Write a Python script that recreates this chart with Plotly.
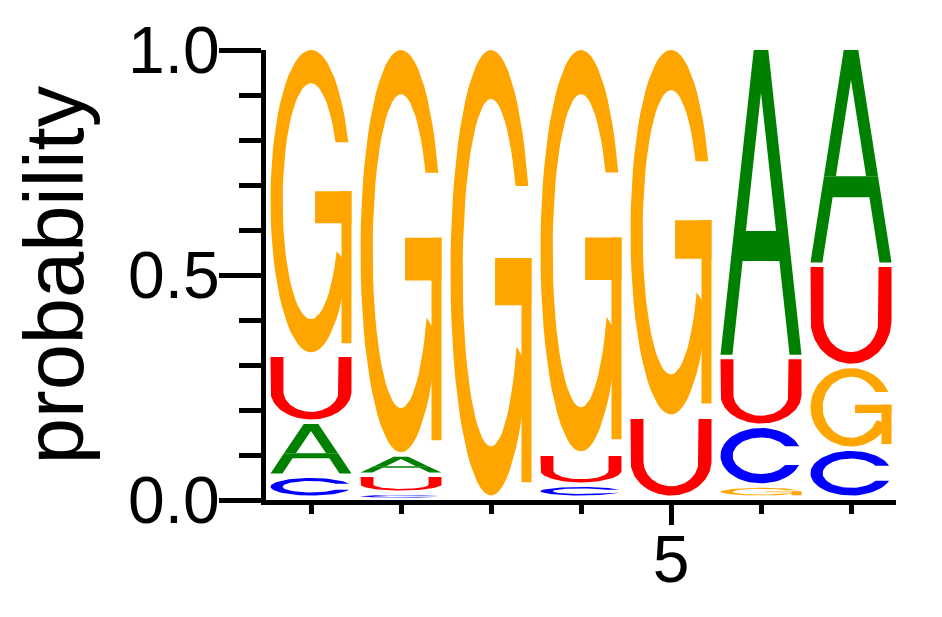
import numpy as np
import plotly.graph_objects as go

# Sequence logo: probability of each nucleotide per position
positions = [1, 2, 3, 4, 5, 6, 7]
prob_A = [0.120, 0.045, 0.0, 0.0, 0.0, 0.687, 0.482]
prob_C = [0.049, 0.011, 0.0, 0.029, 0.0, 0.133, 0.109]
prob_G = [0.682, 0.904, 1.0, 0.902, 0.820, 0.027, 0.184]
prob_U = [0.149, 0.040, 0.0, 0.069, 0.180, 0.153, 0.225]

colors = {'A': '#008000', 'C': '#0000FF', 'G': '#FFA500', 'U': '#FF0000'}
LETTER_W = 0.9
GAP = 0.01


def arc(cx, cy, rx, ry, a0, a1, n=60):
    t = np.radians(np.linspace(a0, a1, n))
    return list(zip(cx + rx * np.cos(t), cy + ry * np.sin(t)))


def glyph(letter):
    # letter outlines in a unit box, as a list of simple polygons
    if letter == 'A':
        s = 0.41
        il = lambda y: 0.5 - (0.86 - y) * s
        lower = [(0, 0), (il(0), 0), (il(0.307), 0.307), (1 - il(0.307), 0.307),
                 (1 - il(0), 0), (1, 0), (1 - 0.406 * s, 0.406), (0.406 * s, 0.406)]
        upper = [(0.406 * s, 0.406), (il(0.406), 0.406), (0.5, 0.86),
                 (1 - il(0.406), 0.406), (1 - 0.406 * s, 0.406), (0.59, 1), (0.41, 1)]
        return [lower, upper]
    if letter == 'C':
        a_out = np.degrees(np.arcsin(0.17 / 0.5))
        a_in = np.degrees(np.arcsin(0.17 / 0.33))
        ring = arc(0.5, 0.5, 0.5, 0.5, a_out, 360 - a_out) + \
            arc(0.5, 0.5, 0.35, 0.33, 360 - a_in, a_in)
        return [ring]
    if letter == 'G':
        a_out = np.degrees(np.arcsin(0.195 / 0.5))
        a_in = np.degrees(np.arcsin(0.195 / 0.39))
        ring = arc(0.5, 0.5, 0.5, 0.5, a_out, 335) + \
            arc(0.5, 0.5, 0.35, 0.39, 335, a_in)
        bar = [(0.55, 0.427), (1, 0.427), (1, 0.533), (0.55, 0.533)]
        stem = [(0.877, 0.03), (1, 0.03), (1, 0.533), (0.877, 0.533)]
        return [ring, bar, stem]
    if letter == 'U':
        r = 0.45
        shape = [(0, 1)] + arc(0.5, r, 0.5, r, 180, 360) + [(1, 1), (0.84, 1)] + \
            arc(0.5, r, 0.34, r - 0.12, 360, 180) + [(0.16, 1)]
        return [shape]


fig = go.Figure()

table = {'A': prob_A, 'C': prob_C, 'G': prob_G, 'U': prob_U}
for i, pos in enumerate(positions):
    col = sorted(((table[k][i], k) for k in table), key=lambda t: t[0])
    base = 0.0
    for p, letter in col:
        if p <= 0:
            continue
        y0 = base + min(GAP, p * 0.5)
        h = base + p - y0
        base += p
        for poly in glyph(letter):
            xs = [pos - LETTER_W / 2 + u * LETTER_W for u, v in poly]
            ys = [y0 + v * h for u, v in poly]
            fig.add_trace(go.Scatter(
                x=xs + xs[:1], y=ys + ys[:1], mode='lines', fill='toself',
                fillcolor=colors[letter], line=dict(width=0, color=colors[letter]),
                hoverinfo='skip', showlegend=False))

font = 'Liberation Sans, Arial, sans-serif'
# page body adds an 8px offset, so the figure is a bit smaller than the window
fig.update_layout(
    width=934, height=609,
    margin=dict(l=258, r=46, t=42, b=117),
    plot_bgcolor='white', paper_bgcolor='white',
    font=dict(family=font, color='black'),
)
fig.update_xaxes(
    range=[0.5, 7.5], showgrid=False, zeroline=False, automargin=False,
    showline=True, linewidth=5, linecolor='black',
    ticks='outside', tick0=0, dtick=5, ticklen=20, tickwidth=5, tickcolor='black',
    tickfont=dict(size=66), ticklabelstandoff=-22,
    minor=dict(tick0=0, dtick=1, ticks='outside', ticklen=9, tickwidth=5,
               tickcolor='black', showgrid=False),
)
fig.update_yaxes(
    range=[0, 1], showgrid=False, zeroline=False, automargin=False,
    showline=True, linewidth=5, linecolor='black',
    ticks='outside', tickvals=[0, 0.5, 1], ticktext=['0.0', '0.5', '1.0'],
    ticklen=42, tickwidth=5, tickcolor='black', tickfont=dict(size=66),
    ticklabelstandoff=-14,
    minor=dict(tick0=0, dtick=0.1, ticks='outside', ticklen=22, tickwidth=5,
               tickcolor='black', showgrid=False),
    title=dict(text='probability', font=dict(size=83), standoff=18),
)

fig.write_html("out.html")
